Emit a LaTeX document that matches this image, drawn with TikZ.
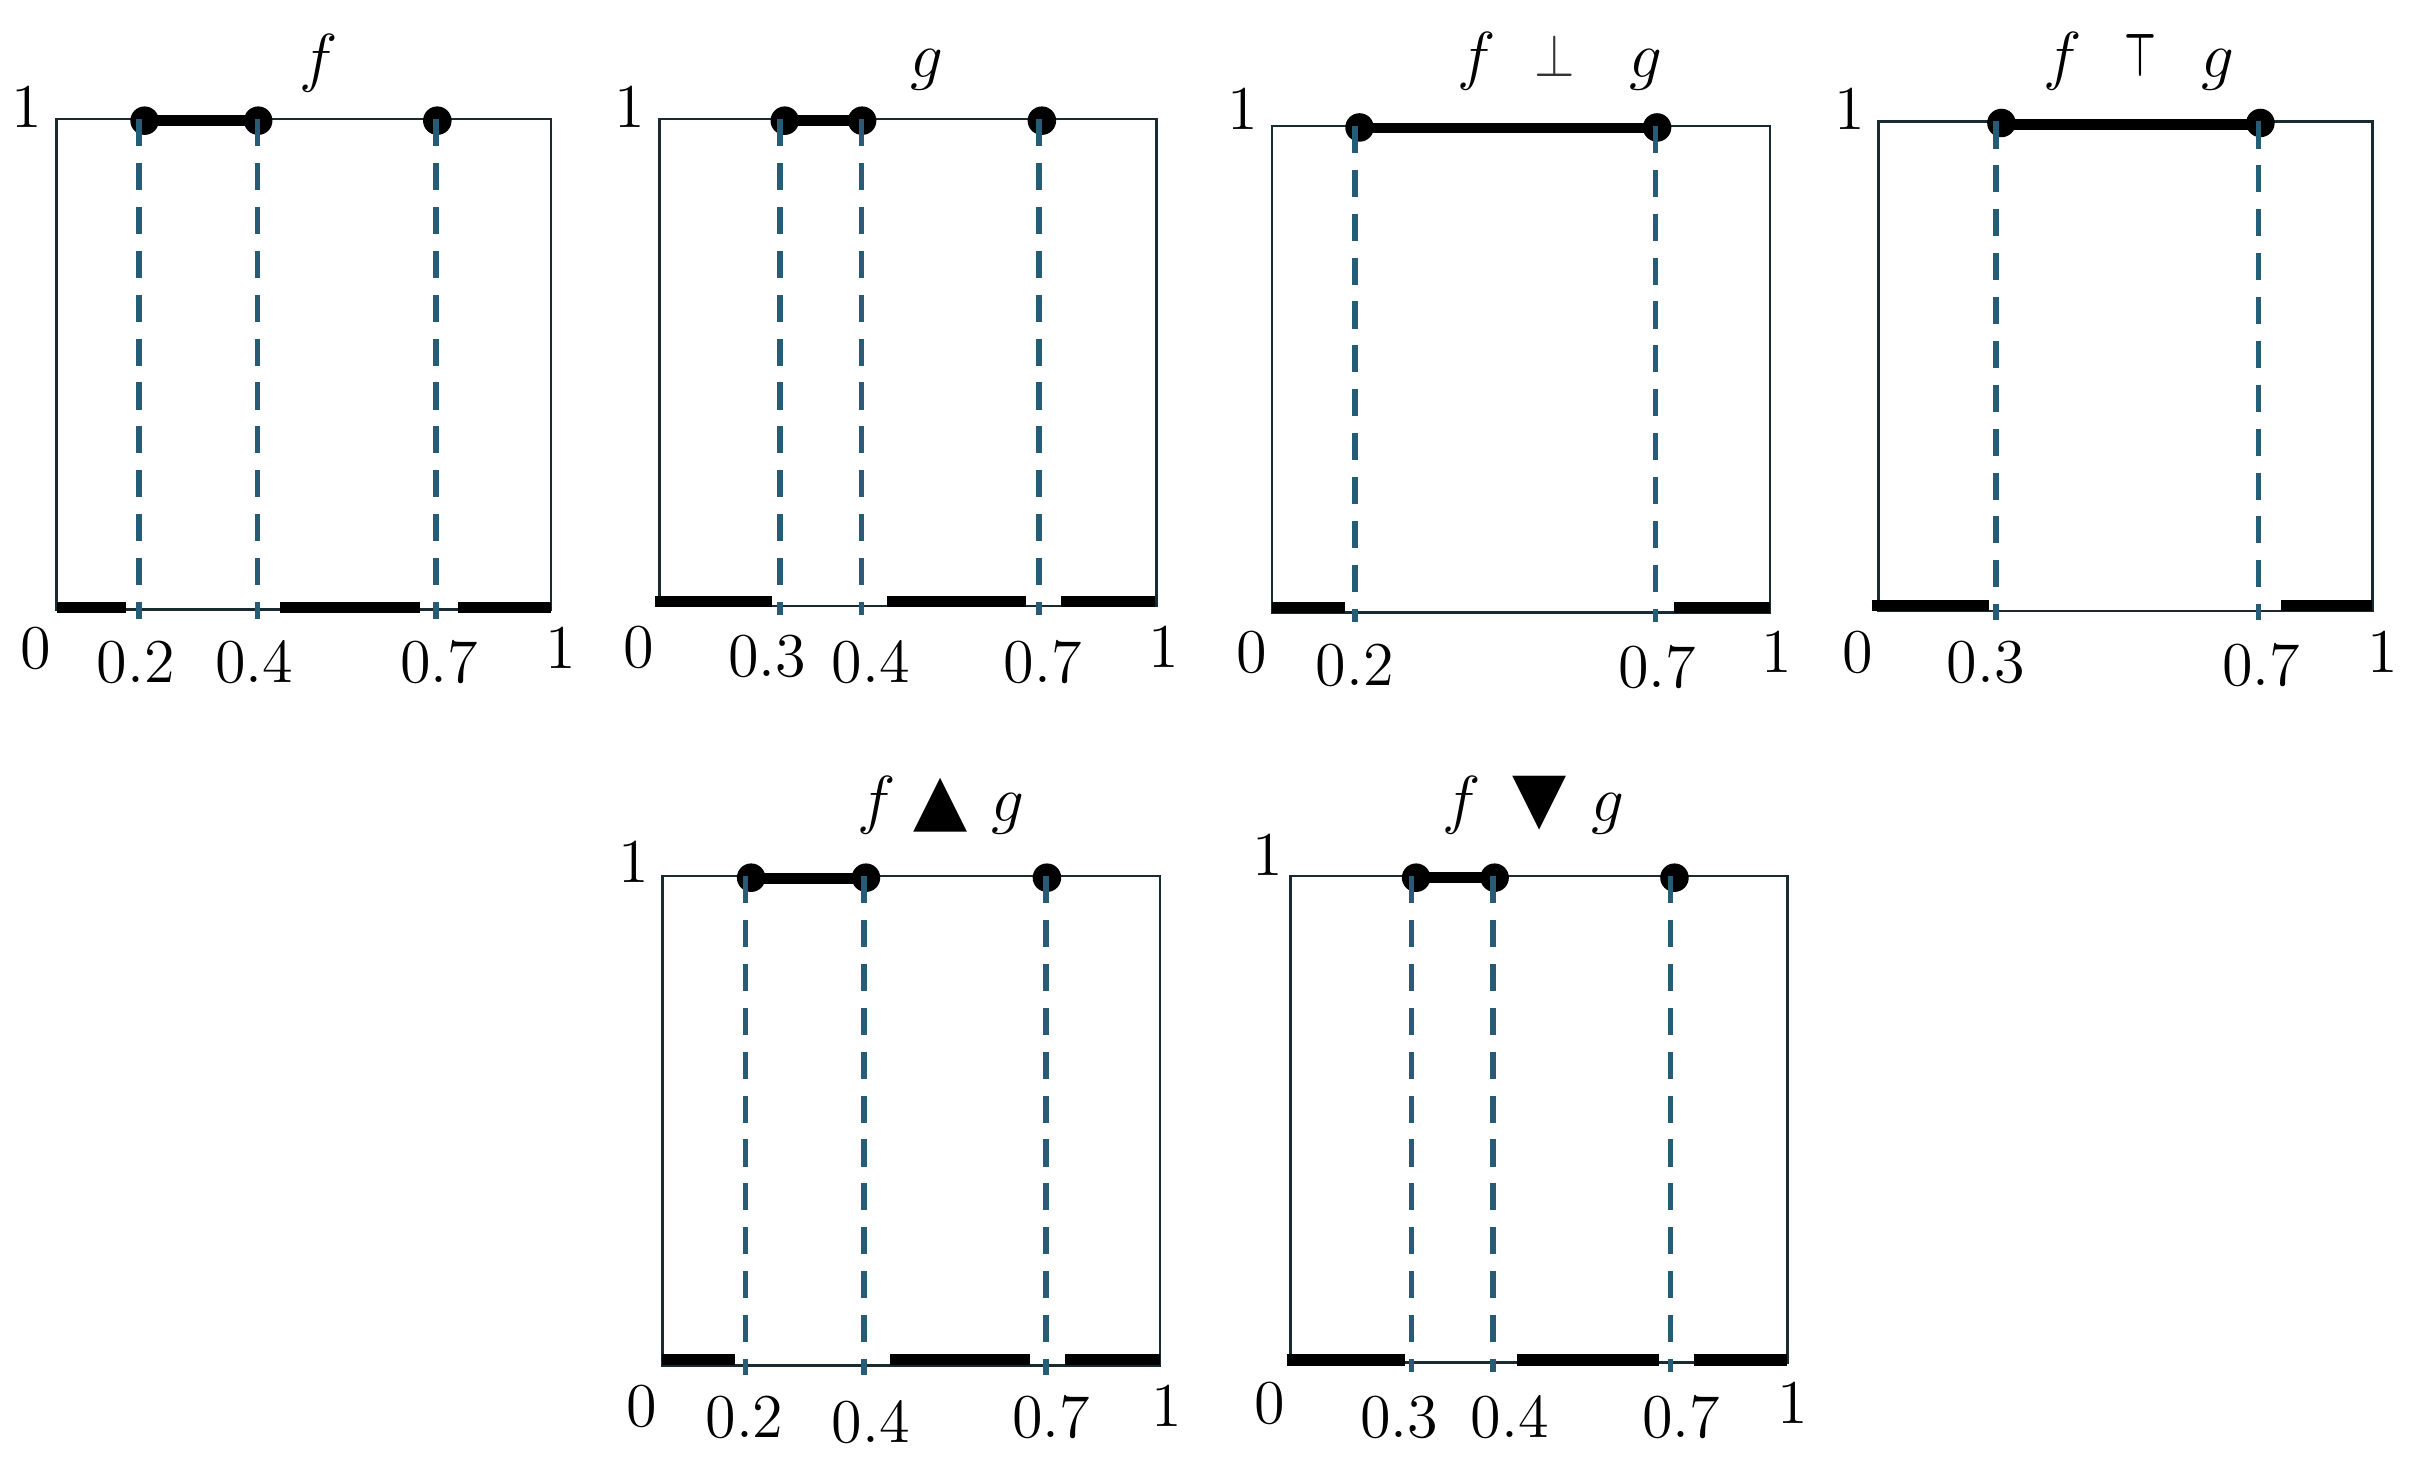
\documentclass[tikz,border=0pt]{standalone}
\usepackage{amsmath}
\usepackage{fontspec}
\usepackage{graphicx}
\newfontfamily\symfnt{DejaVu Sans}
\definecolor{boxc}{RGB}{25,42,48}
\definecolor{dashc}{RGB}{38,92,118}
\tikzset{
  frame/.style={draw=boxc, line width=0.45pt},
  dashln/.style={draw=dashc, line width=1.05pt, dash pattern=on 5pt off 3.1pt},
  botseg/.style={draw=black, line width=2.1pt},
  topseg/.style={draw=black, line width=2pt},
  pt/.style={circle, fill=black, inner sep=0pt, minimum size=1.85mm},
  lab/.style={inner sep=0pt, anchor=base, font=\fontsize{11.5}{13}\selectfont},
  symlab/.style={inner sep=0pt, anchor=base, font=\fontsize{13}{14}\selectfont\symfnt},
}
\newcommand\vmark[5]{% name, dot x, dash x, top y, bottom y
  \node[pt] (#1) at (#2,#4+1) {};
  \coordinate (#1t) at (#3,#4);
  \coordinate (#1b) at (#3,#5+6);
  \draw[dashln] (#1t) -- (#1b);
}
\begin{document}
\begin{tikzpicture}[x=0.1mm,y=-0.1mm]
\useasboundingbox (0,0) rectangle (1568,950);

% ---------------- Panel 1: f
\draw[frame] (36.7,77.3) rectangle (357.5,395.3);
\draw[botseg] (36.7,394.3) -- (81.9,394.3);
\draw[botseg] (181.9,394.3) -- (272.5,394.3);
\draw[botseg] (297.3,394.3) -- (357.4,394.3);
\coordinate (a1) at (93.8,78.3);
\coordinate (b1) at (167.5,78.3);
\draw[topseg] (a1) -- (b1);
\vmark{pa1}{93.8}{90.1}{77.3}{395.3}
\vmark{pb1}{167.5}{167}{77.3}{395.3}
\vmark{pc1}{283.7}{283}{77.3}{395.3}
\node[lab] (t1) at (207,51.5) {$f$};
\node[lab] (y1) at (17.4,82.5) {1};
\node[lab] (z1) at (23,434) {0};
\node[lab] (u1) at (88,443) {0.2};
\node[lab] (v1) at (165,443) {0.4};
\node[lab] (w1) at (285,443) {0.7};
\node[lab] (o1) at (364,434) {1};

% ---------------- Panel 2: g
\draw[frame] (427.7,77.3) rectangle (750.4,393.3);
\draw[botseg] (425.2,390.3) -- (501.0,390.3);
\draw[botseg] (575.4,390.3) -- (665.9,390.3);
\draw[botseg] (688.3,390.3) -- (749.6,390.3);
\coordinate (a2) at (509.1,78.3);
\coordinate (b2) at (559.3,78.3);
\draw[topseg] (a2) -- (b2);
\vmark{pa2}{509.1}{505.9}{77.3}{393.3}
\vmark{pb2}{559.3}{558.8}{77.3}{393.3}
\vmark{pc2}{675.9}{674.2}{77.3}{393.3}
\node[lab] (t2) at (601.5,50) {$g$};
\node[lab] (y2) at (408.5,82.5) {1};
\node[lab] (z2) at (414.7,433) {0};
\node[lab] (u2) at (497.8,438.7) {0.3};
\node[lab] (v2) at (565,443) {0.4};
\node[lab] (w2) at (676.6,443) {0.7};
\node[lab] (o2) at (754.8,433) {1};

% ---------------- Panel 3: f perp g
\draw[frame] (825.1,81.7) rectangle (1148.4,397.3);
\draw[botseg] (825,394.3) -- (872.7,394.3);
\draw[botseg] (1086.3,394.3) -- (1148.4,394.3);
\coordinate (a3) at (882,83);
\coordinate (b3) at (1075,83);
\draw[topseg] (a3) -- (b3);
\vmark{pa3}{882}{879}{81.7}{397.3}
\vmark{pc3}{1075}{1073.9}{81.7}{397.3}
\node[lab] (t3f) at (957.9,50.6) {$f$};
\node[lab, text=black!80] (t3s) at (1008.7,49.7) {\scalebox{0.8}[0.93]{$\perp$}};
\node[lab] (t3g) at (1067.7,50) {$g$};
\node[lab] (y3) at (806.4,84) {1};
\node[lab] (z3) at (812,436) {0};
\node[lab] (u3) at (879,444.5) {0.2};
\node[lab] (w3) at (1075,446) {0.7};
\node[lab] (o3) at (1152.8,436) {1};

% ---------------- Panel 4: f top g
\draw[frame] (1218.7,78.8) rectangle (1539.1,396.5);
\draw[botseg] (1214.2,393) -- (1290.2,393);
\draw[botseg] (1479.6,393) -- (1539.1,393);
\coordinate (a4) at (1298.4,81);
\coordinate (b4) at (1466.4,81);
\draw[topseg] (a4) -- (b4);
\vmark{pa4}{1298.4}{1294.8}{78.8}{396.5}
\vmark{pc4}{1466.4}{1465.1}{78.8}{396.5}
\node[lab] (t4f) at (1338,50.6) {$f$};
\node[lab] (t4s) at (1388.8,49.7) {\scalebox{0.55}[0.93]{$\boldsymbol{\top}$}};
\node[lab] (t4g) at (1439,50) {$g$};
\node[lab] (y4) at (1200.3,84) {1};
\node[lab] (z4) at (1205.3,436) {0};
\node[lab] (u4) at (1288.3,443) {0.3};
\node[lab] (w4) at (1467,444.5) {0.7};
\node[lab] (o4) at (1546,436) {1};

% ---------------- Panel 5: f up-triangle g
\draw[frame] (429.7,568.4) rectangle (752.5,885.9);
\draw[botseg] (429.7,882) -- (476.6,882);
\draw[botseg] (577.4,882) -- (668.0,882);
\draw[botseg] (690.9,882) -- (752.5,882);
\coordinate (a5) at (487.3,569.9);
\coordinate (b5) at (561.8,569.9);
\draw[topseg] (a5) -- (b5);
\vmark{pa5}{487.3}{483.6}{568.4}{885.9}
\vmark{pb5}{561.8}{560.5}{568.4}{885.9}
\vmark{pc5}{679.2}{678.4}{568.4}{885.9}
\node[lab] (t5f) at (568.7,532.7) {$f$};
\node[symlab] (t5s) at (610.3,534) {▲};
\node[lab] (t5g) at (654.1,532.7) {$g$};
\node[lab] (y5) at (411,572.2) {1};
\node[lab] (z5) at (416.5,925.3) {0};
\node[lab] (u5) at (483,932.7) {0.2};
\node[lab] (v5) at (565,935.6) {0.4};
\node[lab] (w5) at (682,932.7) {0.7};
\node[lab] (o5) at (756.6,925.3) {1};

% ---------------- Panel 6: f down-triangle g
\draw[frame] (837.3,568.4) rectangle (1159.5,883.9);
\draw[botseg] (834.9,882.4) -- (911.3,882.4);
\draw[botseg] (984,882.4) -- (1076,882.4);
\draw[botseg] (1098.7,882.4) -- (1159.5,882.4);
\coordinate (a6) at (918.7,569.4);
\coordinate (b6) at (969.6,569.4);
\draw[topseg] (a6) -- (b6);
\vmark{pa6}{918.7}{915.7}{568.4}{883.9}
\vmark{pb6}{969.6}{968.4}{568.4}{883.9}
\vmark{pc6}{1086.3}{1083.8}{568.4}{883.9}
\node[lab] (t6f) at (948.2,532.7) {$f$};
\node[symlab] (t6s) at (999,533) {▼};
\node[lab] (t6g) at (1043.4,532.7) {$g$};
\node[lab] (y6) at (822.5,567.8) {1};
\node[lab] (z6) at (823.8,923.8) {0};
\node[lab] (u6) at (907.6,932.7) {0.3};
\node[lab] (v6) at (979.4,932.7) {0.4};
\node[lab] (w6) at (1090.6,932.7) {0.7};
\node[lab] (o6) at (1163,923.8) {1};
\end{tikzpicture}
\end{document}
